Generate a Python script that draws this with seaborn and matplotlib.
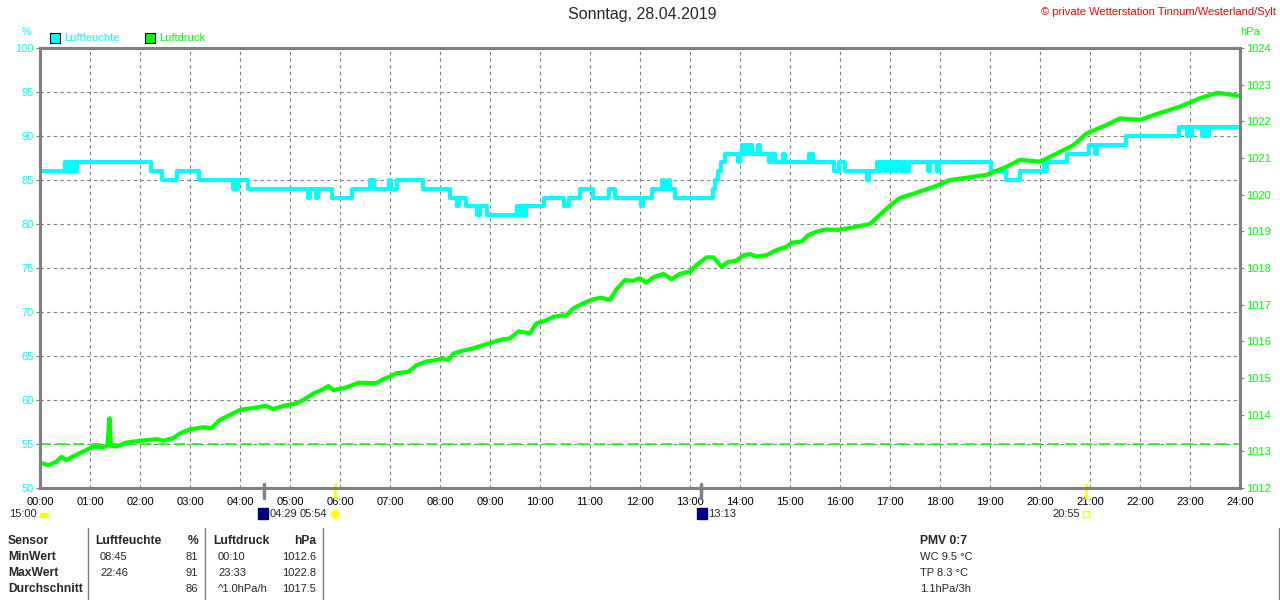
import pandas as pd
import matplotlib
matplotlib.use("Agg")
import matplotlib.pyplot as plt
import seaborn as sns
from matplotlib.patches import Rectangle
from matplotlib.lines import Line2D

# Luftfeuchte (%): hour where the value changes, new value (step curve)
hum_t = [0.00, 0.50, 0.53, 0.58, 0.62, 0.66, 0.69, 0.73, 2.21, 2.43, 2.73, 3.18,
         3.86, 3.90, 3.93, 3.96, 4.16, 5.36, 5.39, 5.52, 5.55, 5.83, 6.23, 6.60,
         6.68, 6.98, 7.02, 7.13, 7.66, 8.20, 8.33, 8.38, 8.53, 8.73, 8.80, 8.93,
         9.53, 9.58, 9.63, 9.68, 9.72, 10.07, 10.47, 10.57, 10.80, 11.05, 11.37, 11.50,
         12.02, 12.05, 12.23, 12.43, 12.47, 12.55, 12.59, 12.70, 13.45, 13.50, 13.56, 13.62,
         13.70, 13.95, 13.99, 14.03, 14.07, 14.10, 14.14, 14.18, 14.23, 14.35, 14.39, 14.57,
         14.62, 14.70, 14.85, 14.89, 15.37, 15.45, 15.87, 15.97, 16.10, 16.53, 16.57, 16.73,
         16.80, 16.83, 16.90, 16.93, 17.00, 17.04, 17.10, 17.13, 17.22, 17.27, 17.32, 17.37,
         17.76, 17.79, 17.94, 17.97, 19.01, 19.33, 19.60, 20.07, 20.10, 20.13, 20.53, 20.97,
         21.10, 21.14, 21.72, 22.77, 22.93, 22.97, 23.00, 23.03, 23.23, 23.28, 23.31, 23.37]
hum_v = [86, 87, 86, 87, 86, 87, 86, 87, 86, 85, 86, 85,
         84, 85, 84, 85, 84, 83, 84, 83, 84, 83, 84, 85,
         84, 85, 84, 85, 84, 83, 82, 83, 82, 81, 82, 81,
         82, 81, 82, 81, 82, 83, 82, 83, 84, 83, 84, 83,
         82, 83, 84, 85, 84, 85, 84, 83, 84, 85, 86, 87,
         88, 87, 88, 89, 88, 89, 88, 89, 88, 89, 88, 87,
         88, 87, 88, 87, 88, 87, 86, 87, 86, 85, 86, 87,
         86, 87, 86, 87, 86, 87, 86, 87, 86, 87, 86, 87,
         86, 87, 86, 87, 86, 85, 86, 87, 86, 87, 88, 89,
         88, 89, 90, 91, 90, 91, 90, 91, 90, 91, 90, 91]

# Luftdruck (hPa)
p_t = [0.00, 0.17, 0.33, 0.43, 0.53, 0.67, 0.80, 0.93, 1.07, 1.27, 1.35, 1.39, 1.42,
       1.53, 1.73, 2.00, 2.33, 2.47, 2.67, 2.80, 3.00, 3.27, 3.43, 3.60, 3.80, 4.00,
       4.20, 4.53, 4.67, 4.87, 5.13, 5.27, 5.47, 5.60, 5.77, 5.87, 6.07, 6.20, 6.37,
       6.73, 6.87, 7.00, 7.13, 7.37, 7.53, 7.73, 7.93, 8.03, 8.17, 8.27, 8.47, 8.67,
       8.87, 9.00, 9.20, 9.40, 9.57, 9.80, 9.93, 10.10, 10.27, 10.53, 10.67, 10.87,
       11.07, 11.23, 11.40, 11.53, 11.70, 11.87, 12.00, 12.13, 12.27, 12.47, 12.63,
       12.80, 13.00, 13.13, 13.33, 13.47, 13.63, 13.77, 13.93, 14.07, 14.20, 14.33,
       14.53, 14.73, 14.93, 15.03, 15.23, 15.37, 15.53, 15.70, 15.97, 16.30, 16.60,
       16.80, 17.00, 17.20, 17.50, 17.93, 18.20, 18.47, 18.93, 19.33, 19.60, 20.00,
       20.27, 20.67, 20.93, 21.33, 21.60, 22.00, 22.27, 22.80, 23.20, 23.55, 24.00]
p_v = [1012.69, 1012.62, 1012.72, 1012.85, 1012.76, 1012.87, 1012.95, 1013.04, 1013.13,
       1013.11, 1013.17, 1013.90, 1013.15, 1013.13, 1013.24, 1013.29, 1013.33, 1013.29,
       1013.36, 1013.49, 1013.60, 1013.66, 1013.63, 1013.86, 1013.99, 1014.13, 1014.17,
       1014.24, 1014.15, 1014.24, 1014.31, 1014.40, 1014.58, 1014.65, 1014.78, 1014.67,
       1014.72, 1014.78, 1014.87, 1014.86, 1014.97, 1015.04, 1015.13, 1015.17, 1015.35,
       1015.45, 1015.49, 1015.54, 1015.49, 1015.67, 1015.75, 1015.81, 1015.90, 1015.95,
       1016.04, 1016.08, 1016.27, 1016.22, 1016.49, 1016.56, 1016.67, 1016.72, 1016.90,
       1017.04, 1017.15, 1017.19, 1017.13, 1017.42, 1017.67, 1017.65, 1017.72, 1017.60,
       1017.75, 1017.84, 1017.69, 1017.84, 1017.90, 1018.08, 1018.29, 1018.29, 1018.04,
       1018.17, 1018.20, 1018.35, 1018.38, 1018.31, 1018.35, 1018.49, 1018.58, 1018.69,
       1018.72, 1018.90, 1018.99, 1019.05, 1019.04, 1019.12, 1019.20, 1019.45, 1019.70,
       1019.91, 1020.04, 1020.24, 1020.40, 1020.45, 1020.54, 1020.76, 1020.95, 1020.90,
       1021.08, 1021.35, 1021.67, 1021.90, 1022.08, 1022.04, 1022.17, 1022.40, 1022.63,
       1022.78, 1022.69]

hours = list(range(25))
hour_labels = [f"{h:02d}:00" for h in hours]
hum_ticks = list(range(50, 101, 5))
p_ticks = list(range(1012, 1025))
ref_line = 55

# moon rise/set and sun rise/set marks on the time axis
moon_times = [4 + 29/60, 13 + 13/60]
moon_labels = ["04:29", "13:13"]
sun_times = [5 + 54/60, 20 + 55/60]
sun_labels = ["05:54", "20:55"]

# summary table
table_head = ["Sensor", "Luftfeuchte", "%", "Luftdruck", "hPa"]
table_rows = [["MinWert", "08:45", "81", "00:10", "1012.6"],
              ["MaxWert", "22:46", "91", "23:33", "1022.8"],
              ["Durchschnitt", "", "86", "^1.0hPa/h", "1017.5"]]
pmv_lines = ["PMV 0:7", "WC 9.5 °C", "TP 8.3 °C", "1.1hPa/3h"]

CYAN = "#00ffff"
GREEN = "#00ff00"
GRAY = "#808080"

sns.set_style("white")
plt.rcParams['font.family'] = ['Liberation Sans', 'DejaVu Sans']
plt.rcParams['font.size'] = 8

W, H = 1280, 600
fig = plt.figure(figsize=(12.8, 6), dpi=100)


def fx(x):
    return x / W


def fy(y):
    return 1 - y / H


ax = fig.add_axes([fx(40), fy(488), 1200 / W, 440 / H])
ax2 = ax.twinx()

hum = pd.DataFrame({"t": hum_t + [24], "v": hum_v + [hum_v[-1]]})
press = pd.DataFrame({"t": p_t, "v": p_v})

sns.lineplot(data=hum, x="t", y="v", drawstyle="steps-post", color=CYAN,
             linewidth=2.9, ax=ax)
ax.axhline(ref_line, color=GREEN, linewidth=1.1, linestyle=(0, (7, 4)))
sns.lineplot(data=press, x="t", y="v", color=GREEN, linewidth=3.0, ax=ax2)

ax.set_xlim(0, 24)
ax.set_ylim(50, 100)
ax2.set_ylim(1012, 1024)
ax.set_xticks(hours)
ax.set_xticklabels(hour_labels)
ax.set_yticks(hum_ticks)
ax2.set_yticks(p_ticks)
for a in (ax, ax2):
    a.set_xlabel("")
    a.set_ylabel("")
    for s in a.spines.values():
        s.set_color(GRAY)
        s.set_linewidth(2.2)

ax.grid(True, color=GRAY, linestyle=(0, (3, 3)), linewidth=0.8)
ax.tick_params(axis="x", colors=GRAY, labelcolor="black", length=3, pad=3.5, labelsize=8)
ax.tick_params(axis="y", colors=GRAY, labelcolor=CYAN, length=3, pad=1.5, labelsize=8)
ax2.tick_params(axis="y", colors=GRAY, labelcolor=GREEN, length=3, pad=1.5, labelsize=8)

# event marks on the time axis
xt = ax.get_xaxis_transform()
for t in moon_times:
    ax.plot([t, t], [-0.022, 0.01], transform=xt, color=GRAY, lw=2.5, clip_on=False)
for t in sun_times:
    ax.plot([t, t], [-0.022, 0.01], transform=xt, color="#ffff00", lw=2, clip_on=False)

# texts below the axis
fig.text(fx(37), fy(514), "15:00", ha="right", va="center")
fig.add_artist(Rectangle((fx(40), fy(517)), 8 / W, 4 / H, color="#ffff00"))
fig.add_artist(Rectangle((fx(258), fy(519)), 10 / W, 11 / H, color="#000080"))
fig.text(fx(270), fy(514), moon_labels[0], va="center")
fig.text(fx(327), fy(514), sun_labels[0], ha="right", va="center")
fig.add_artist(Line2D([fx(335)], [fy(514)], marker="o", markersize=6, color="#ffff00",
                      markeredgecolor="#ffff40"))
fig.add_artist(Rectangle((fx(697), fy(519)), 10 / W, 11 / H, color="#000080"))
fig.text(fx(708), fy(514), moon_labels[1], va="center")
fig.text(fx(1080), fy(514), sun_labels[1], ha="right", va="center")
fig.add_artist(Rectangle((fx(1083), fy(517)), 6 / W, 6 / H, fill=False,
                         edgecolor="#ffff00", lw=1))

# header
fig.text(fx(642), fy(15), "Sonntag, 28.04.2019", ha="center", va="center", fontsize=11.5)
fig.text(fx(1276), fy(12), "© private Wetterstation Tinnum/Westerland/Sylt",
         ha="right", va="center", color="red", fontsize=8)
fig.text(fx(27), fy(32), "%", ha="center", va="center", color=CYAN)
fig.text(fx(1250), fy(32), "hPa", ha="center", va="center", color=GREEN)

# legend
fig.add_artist(Rectangle((fx(50), fy(43)), 10 / W, 10 / H, facecolor=CYAN,
                         edgecolor="black", lw=0.8))
fig.text(fx(64), fy(38), "Luftfeuchte", va="center", color=CYAN)
fig.add_artist(Rectangle((fx(145), fy(43)), 10 / W, 10 / H, facecolor=GREEN,
                         edgecolor="black", lw=0.8))
fig.text(fx(159), fy(38), "Luftdruck", va="center", color=GREEN)

# summary table
col_x = [8, 95, 198, 213, 316]
col_ha = ["left", "left", "right", "left", "right"]
val_x = [8, 100, 198, 218, 316]
row_y = [541, 557, 573, 589]
for x, ha, txt in zip(col_x, col_ha, table_head):
    fig.text(fx(x), fy(row_y[0]), txt, ha=ha, va="center", fontweight="bold", fontsize=8.7)
for r, row in enumerate(table_rows):
    y = row_y[r + 1]
    fig.text(fx(val_x[0]), fy(y), row[0], ha="left", va="center", fontweight="bold",
             fontsize=8.7)
    for x, ha, txt in zip(val_x[1:], col_ha[1:], row[1:]):
        fig.text(fx(x), fy(y), txt, ha=ha, va="center")
for x in [88, 205, 323, 1279]:
    fig.add_artist(Line2D([fx(x), fx(x)], [fy(528), fy(600)], color=GRAY, lw=1))

for i, txt in enumerate(pmv_lines):
    fig.text(fx(920), fy(row_y[i]), txt, ha="left", va="center",
             fontweight="bold" if i == 0 else "normal",
             fontsize=8.7 if i == 0 else 8)

fig.savefig("out.png", dpi=100)
